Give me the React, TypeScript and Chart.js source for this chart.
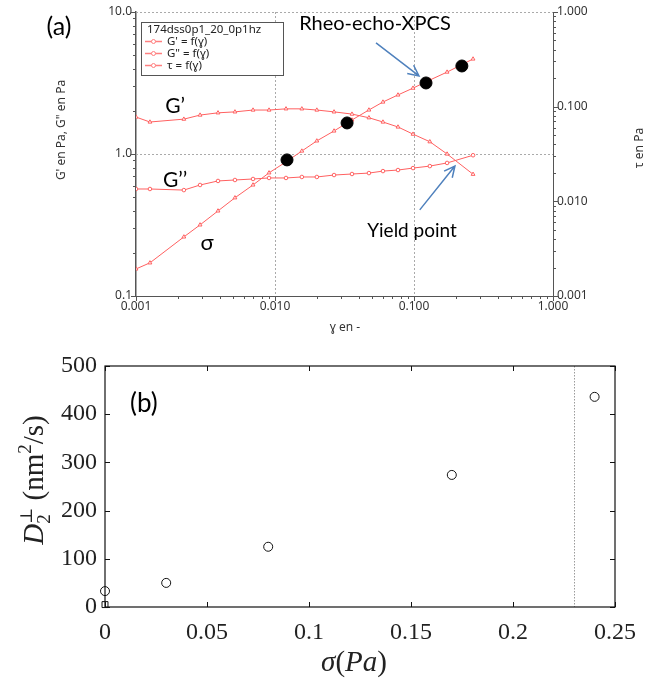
import React, { useEffect, useRef } from 'react';
import { Chart, registerables } from 'chart.js';

Chart.register(...registerables);

// ---------------- Panel (a) data ----------------
const strainGamma = [0.001, 0.00126, 0.00221, 0.00289, 0.00389, 0.00515, 0.00695, 0.00906, 0.012, 0.0156, 0.02, 0.0266, 0.0358, 0.0474, 0.0598, 0.0767, 0.0984, 0.13, 0.173, 0.266];
const storageModulus = [1.82, 1.68, 1.76, 1.88, 1.95, 1.98, 2.04, 2.04, 2.08, 2.08, 2.04, 1.98, 1.91, 1.8, 1.68, 1.55, 1.38, 1.22, 1.0, 0.72];
const lossModulus = [0.567, 0.567, 0.557, 0.605, 0.646, 0.656, 0.667, 0.678, 0.678, 0.689, 0.689, 0.711, 0.723, 0.734, 0.758, 0.771, 0.796, 0.822, 0.865, 0.98];
const shearStress = [0.00193, 0.00224, 0.00421, 0.00564, 0.00792, 0.0109, 0.0149, 0.02, 0.0261, 0.034, 0.0435, 0.0554, 0.0724, 0.0923, 0.112, 0.133, 0.157, 0.191, 0.232, 0.319];
const xpcsGamma = [0.0122, 0.033, 0.122, 0.221];
const xpcsStress = [0.0274, 0.0673, 0.178, 0.269];
const gammaTickLabels = ['0.001', '0.010', '0.100', '1.000'];
const modulusTickLabels = ['0.1', '1.0', '10.0'];
const stressTickLabels = ['0.001', '0.010', '0.100', '1.000'];
const legendTitle = '174dss0p1_20_0p1hz';
const legendLabels = ["G' = f(\u0263)", 'G" = f(\u0263)', '\u03c4 = f(\u0263)'];

// annotation anchors in data space (gamma, modulus / stress)
const textNotesA = [
  { text: 'G\u2019', x: 0.00191, y: 2.18, axis: 'y', size: 21 },
  { text: 'G\u2019\u2019', x: 0.00191, y: 0.656, axis: 'y', size: 21 },
  { text: '\u03c3', x: 0.00324, y: 0.236, axis: 'y', size: 22 },
  { text: 'Yield point', x: 0.0968, y: 0.287, axis: 'y', size: 19 },
  { text: 'Rheo-echo-XPCS', x: 0.0524, y: 8.23, axis: 'y', size: 20 },
];
const arrowNotesA = [
  { x1: 0.0533, y1: 0.471, x2: 0.1086, y2: 0.211, axis: 'y2' },
  { x1: 0.11, y1: 0.404, x2: 0.197, y2: 0.823, axis: 'y' },
];

// ---------------- Panel (b) data ----------------
const stressSigma = [0, 0.03, 0.08, 0.17, 0.24];
const diffusionD2 = [33, 50, 125, 274, 436];
const quiescentSigma = [0];
const quiescentD2 = [5];
const yieldSigma = 0.23;
const sigmaTicks = [0, 0.05, 0.1, 0.15, 0.2, 0.25];
const sigmaTickLabels = ['0', '0.05', '0.1', '0.15', '0.2', '0.25'];
const d2Ticks = [0, 100, 200, 300, 400, 500];
const d2TickLabels = ['0', '100', '200', '300', '400', '500'];
const panelBLabel = { text: '(b)', x: 0.0191, y: 423 };

const RED = '#ff6060';
const SERIF = '"Liberation Serif", "DejaVu Serif", serif';

function logTicks(min: number, max: number) {
  const out: { value: number }[] = [];
  const e0 = Math.round(Math.log10(min));
  const e1 = Math.round(Math.log10(max));
  for (let e = e0; e < e1; e++) {
    for (let m = 1; m < 10; m++) out.push({ value: parseFloat((m * Math.pow(10, e)).toPrecision(6)) });
  }
  out.push({ value: max });
  return out;
}
function isDecade(v: number) {
  const e = Math.log10(v);
  return Math.abs(e - Math.round(e)) < 1e-6;
}
function decadeLabel(v: number, labels: string[], base: number) {
  if (!isDecade(v)) return '';
  return labels[Math.round(Math.log10(v)) - base] ?? '';
}

function drawArrow(ctx: CanvasRenderingContext2D, x1: number, y1: number, x2: number, y2: number) {
  const ang = Math.atan2(y2 - y1, x2 - x1);
  const L = 12;
  const a = 0.45;
  ctx.beginPath();
  ctx.moveTo(x1, y1);
  ctx.lineTo(x2, y2);
  ctx.moveTo(x2 - L * Math.cos(ang - a), y2 - L * Math.sin(ang - a));
  ctx.lineTo(x2, y2);
  ctx.lineTo(x2 - L * Math.cos(ang + a), y2 - L * Math.sin(ang + a));
  ctx.stroke();
}

type Piece = { t: string; font: string; dy?: number; stack?: { t: string; font: string; dy: number } };
function drawPieces(ctx: CanvasRenderingContext2D, pieces: Piece[], cx: number, baseY: number) {
  const widths = pieces.map((p) => {
    ctx.font = p.font;
    let w = ctx.measureText(p.t).width;
    if (p.stack) {
      ctx.font = p.stack.font;
      w = Math.max(w, ctx.measureText(p.stack.t).width);
    }
    return w;
  });
  const total = widths.reduce((s, w) => s + w, 0);
  let x = cx - total / 2;
  ctx.textAlign = 'left';
  ctx.textBaseline = 'alphabetic';
  pieces.forEach((p, i) => {
    ctx.font = p.font;
    ctx.fillText(p.t, x, baseY + (p.dy || 0));
    if (p.stack) {
      ctx.font = p.stack.font;
      ctx.fillText(p.stack.t, x, baseY + p.stack.dy);
    }
    x += widths[i];
  });
}

const panelAPlugin = {
  id: 'panelA',
  beforeDatasetsDraw(chart: any) {
    const { ctx, chartArea: ca, scales } = chart;
    ctx.save();
    ctx.strokeStyle = '#aaaaaa';
    ctx.lineWidth = 1;
    ctx.setLineDash([2, 2]);
    ctx.beginPath();
    [0.01, 0.1].forEach((v) => {
      const p = Math.round(scales.x.getPixelForValue(v)) + 0.5;
      ctx.moveTo(p, ca.top);
      ctx.lineTo(p, ca.bottom);
    });
    [1, 10].forEach((v) => {
      const p = Math.round(scales.y.getPixelForValue(v)) + 0.5;
      ctx.moveTo(ca.left, p);
      ctx.lineTo(ca.right, p);
    });
    ctx.stroke();
    ctx.restore();
  },
  afterDraw(chart: any) {
    const { ctx, chartArea: ca, scales } = chart;
    const sx = scales.x, sy = scales.y, sy2 = scales.y2;
    ctx.save();
    // tick marks
    ctx.strokeStyle = '#555';
    ctx.lineWidth = 1;
    ctx.beginPath();
    sx.ticks.forEach((t: any) => {
      const p = Math.round(sx.getPixelForValue(t.value)) + 0.5;
      const L = isDecade(t.value) ? 5 : 3;
      ctx.moveTo(p, ca.bottom);
      ctx.lineTo(p, ca.bottom + L);
    });
    sy.ticks.forEach((t: any) => {
      const p = Math.round(sy.getPixelForValue(t.value)) + 0.5;
      const L = isDecade(t.value) ? 5 : 3;
      ctx.moveTo(ca.left, p);
      ctx.lineTo(ca.left - L, p);
    });
    sy2.ticks.forEach((t: any) => {
      const p = Math.round(sy2.getPixelForValue(t.value)) + 0.5;
      const L = isDecade(t.value) ? 5 : 3;
      ctx.moveTo(ca.right, p);
      ctx.lineTo(ca.right + L, p);
    });
    ctx.stroke();

    // axis titles
    ctx.fillStyle = '#333';
    ctx.font = '12px "Noto Sans"';
    ctx.textAlign = 'center';
    ctx.textBaseline = 'middle';
    ctx.save();
    ctx.translate(62, 130);
    ctx.rotate(-Math.PI / 2);
    ctx.fillText('G\' en Pa, G" en Pa', 0, 0);
    ctx.restore();
    ctx.save();
    ctx.translate(640, 148);
    ctx.rotate(-Math.PI / 2);
    ctx.fillText('\u03c4 en Pa', 0, 0);
    ctx.restore();
    ctx.fillText('\u0263 en -', 345, 328);

    // panel label
    ctx.fillStyle = '#000';
    ctx.font = '25px Lato';
    ctx.fillText('(a)', 59, 27);

    // text notes
    textNotesA.forEach((n) => {
      ctx.font = `${n.size}px Lato`;
      ctx.fillText(n.text, sx.getPixelForValue(n.x), scales[n.axis].getPixelForValue(n.y));
    });

    // arrows
    ctx.strokeStyle = '#4f81bd';
    ctx.lineWidth = 1.5;
    arrowNotesA.forEach((a) => {
      const ys = scales[a.axis];
      drawArrow(ctx, sx.getPixelForValue(a.x1), ys.getPixelForValue(a.y1), sx.getPixelForValue(a.x2), ys.getPixelForValue(a.y2));
    });

    // legend box
    const lx = ca.left + 5, ly = ca.top + 10, lw = 142, lh = 53;
    ctx.fillStyle = '#fff';
    ctx.fillRect(lx, ly, lw, lh);
    ctx.strokeStyle = '#555';
    ctx.lineWidth = 1;
    ctx.strokeRect(lx + 0.5, ly + 0.5, lw, lh);
    ctx.fillStyle = '#222';
    ctx.font = '11.5px "Noto Sans"';
    ctx.textAlign = 'left';
    ctx.textBaseline = 'middle';
    ctx.fillText(legendTitle, lx + 6, ly + 8);
    legendLabels.forEach((lab, i) => {
      const yy = ly + 19.5 + i * 12;
      ctx.strokeStyle = '#ff8080';
      ctx.lineWidth = 1.5;
      ctx.beginPath();
      ctx.moveTo(lx + 4, yy);
      ctx.lineTo(lx + 21, yy);
      ctx.stroke();
      ctx.fillStyle = '#fff';
      ctx.lineWidth = 1;
      ctx.beginPath();
      ctx.arc(lx + 12.5, yy, 2, 0, Math.PI * 2);
      ctx.fill();
      ctx.stroke();
      ctx.fillStyle = '#222';
      ctx.fillText(lab, lx + 26, yy);
    });
    ctx.restore();
  },
};

const panelBPlugin = {
  id: 'panelB',
  beforeDatasetsDraw(chart: any) {
    const { ctx, chartArea: ca, scales } = chart;
    ctx.save();
    ctx.strokeStyle = '#9a9a9a';
    ctx.lineWidth = 1;
    ctx.setLineDash([1.5, 1.5]);
    const p = Math.round(scales.x.getPixelForValue(yieldSigma)) + 0.5;
    ctx.beginPath();
    ctx.moveTo(p, ca.top);
    ctx.lineTo(p, ca.bottom);
    ctx.stroke();
    ctx.restore();
  },
  afterDraw(chart: any) {
    const { ctx, chartArea: ca, scales } = chart;
    const sx = scales.x, sy = scales.y;
    ctx.save();
    ctx.strokeStyle = '#111';
    ctx.lineWidth = 1.2;
    ctx.strokeRect(ca.left, ca.top, ca.right - ca.left, ca.bottom - ca.top);
    ctx.lineWidth = 1;
    ctx.beginPath();
    sigmaTicks.forEach((v) => {
      const p = Math.round(sx.getPixelForValue(v)) + 0.5;
      ctx.moveTo(p, ca.bottom);
      ctx.lineTo(p, ca.bottom - 5);
      ctx.moveTo(p, ca.top);
      ctx.lineTo(p, ca.top + 5);
    });
    d2Ticks.forEach((v) => {
      const p = Math.round(sy.getPixelForValue(v)) + 0.5;
      ctx.moveTo(ca.left, p);
      ctx.lineTo(ca.left + 5, p);
      ctx.moveTo(ca.right, p);
      ctx.lineTo(ca.right - 5, p);
    });
    ctx.stroke();

    ctx.fillStyle = '#222';
    // x title  sigma(Pa)
    drawPieces(ctx, [
      { t: '\u03c3', font: `italic 29px ${SERIF}` },
      { t: '(', font: `29px ${SERIF}` },
      { t: 'Pa', font: `italic 29px ${SERIF}` },
      { t: ')', font: `29px ${SERIF}` },
    ], 354, 331);

    // y title  D2_perp (nm^2/s)
    ctx.save();
    ctx.translate(33, 140);
    ctx.rotate(-Math.PI / 2);
    drawPieces(ctx, [
      { t: 'D', font: `italic 29px ${SERIF}` },
      { t: '\u22a5', font: `17px ${SERIF}`, dy: -11, stack: { t: '2', font: `19px ${SERIF}`, dy: 7 } },
      { t: ' (nm', font: `29px ${SERIF}` },
      { t: '2', font: `19px ${SERIF}`, dy: -12 },
      { t: '/s)', font: `29px ${SERIF}` },
    ], 0, 10);
    ctx.restore();

    // panel label
    ctx.fillStyle = '#000';
    ctx.font = '26px Lato';
    ctx.textAlign = 'center';
    ctx.textBaseline = 'middle';
    ctx.fillText(panelBLabel.text, sx.getPixelForValue(panelBLabel.x), sy.getPixelForValue(panelBLabel.y));
    ctx.restore();
  },
};

export default function App() {
  const refA = useRef<HTMLCanvasElement>(null);
  const refB = useRef<HTMLCanvasElement>(null);

  useEffect(() => {
    Chart.defaults.font.family = '"Noto Sans", sans-serif';
    const tickFontA = { family: '"Noto Sans"', size: 12 };
    const chartA = new Chart(refA.current as HTMLCanvasElement, {
      type: 'line',
      data: {
        datasets: [
          {
            label: 'Rheo-echo-XPCS',
            data: xpcsGamma.map((g, i) => ({ x: g, y: xpcsStress[i] })),
            yAxisID: 'y2',
            showLine: false,
            pointRadius: 6,
            pointBackgroundColor: '#000',
            pointBorderColor: '#000',
            order: 0,
          },
          {
            label: "G' = f(\u0263)",
            data: strainGamma.map((g, i) => ({ x: g, y: storageModulus[i] })),
            yAxisID: 'y',
            borderColor: RED,
            borderWidth: 1,
            pointStyle: 'triangle',
            pointRadius: 2.2,
            pointBorderColor: RED,
            pointBackgroundColor: '#fff',
            pointBorderWidth: 1,
            order: 1,
          },
          {
            label: 'G" = f(\u0263)',
            data: strainGamma.map((g, i) => ({ x: g, y: lossModulus[i] })),
            yAxisID: 'y',
            borderColor: RED,
            borderWidth: 1,
            pointStyle: 'circle',
            pointRadius: 1.8,
            pointBorderColor: RED,
            pointBackgroundColor: '#fff',
            pointBorderWidth: 1,
            order: 1,
          },
          {
            label: '\u03c4 = f(\u0263)',
            data: strainGamma.map((g, i) => ({ x: g, y: shearStress[i] })),
            yAxisID: 'y2',
            borderColor: RED,
            borderWidth: 1,
            pointStyle: 'triangle',
            pointRadius: 2.2,
            pointBorderColor: RED,
            pointBackgroundColor: '#fff',
            pointBorderWidth: 1,
            order: 1,
          },
        ],
      },
      options: {
        responsive: false,
        animation: false,
        layout: { padding: { top: 12, left: 0, right: 0, bottom: 0 } },
        plugins: { legend: { display: false }, tooltip: { enabled: false } },
        scales: {
          x: {
            type: 'logarithmic',
            min: 0.001,
            max: 1,
            position: 'bottom',
            grid: { display: false, drawTicks: false },
            border: { display: true, color: '#555', width: 1 },
            afterBuildTicks: (s: any) => { s.ticks = logTicks(0.001, 1); },
            ticks: {
              autoSkip: false,
              maxRotation: 0,
              padding: 3,
              color: '#333',
              font: tickFontA,
              callback: (v: any) => decadeLabel(Number(v), gammaTickLabels, -3),
            },
            afterFit: (s: any) => { s.height = 44; s.paddingLeft = 0; s.paddingRight = 0; },
          },
          y: {
            type: 'logarithmic',
            min: 0.1,
            max: 10,
            position: 'left',
            grid: { display: false, drawTicks: false },
            border: { display: true, color: '#555', width: 1.5 },
            afterBuildTicks: (s: any) => { s.ticks = logTicks(0.1, 10); },
            ticks: {
              autoSkip: false,
              padding: 4,
              color: '#333',
              font: tickFontA,
              callback: (v: any) => decadeLabel(Number(v), modulusTickLabels, -1),
            },
            afterFit: (s: any) => { s.width = 136; s.paddingTop = 0; s.paddingBottom = 0; },
          },
          y2: {
            type: 'logarithmic',
            min: 0.001,
            max: 1,
            position: 'right',
            grid: { display: false, drawTicks: false },
            border: { display: true, color: '#555', width: 1 },
            afterBuildTicks: (s: any) => { s.ticks = logTicks(0.001, 1); },
            ticks: {
              autoSkip: false,
              padding: 4,
              color: '#333',
              font: tickFontA,
              callback: (v: any) => decadeLabel(Number(v), stressTickLabels, -3),
            },
            afterFit: (s: any) => { s.width = 107; s.paddingTop = 0; s.paddingBottom = 0; },
          },
        },
      },
      plugins: [panelAPlugin],
    } as any);

    const tickFontB = { family: SERIF, size: 24 };
    const chartB = new Chart(refB.current as HTMLCanvasElement, {
      type: 'line',
      data: {
        datasets: [
          {
            label: 'sheared',
            data: stressSigma.map((s, i) => ({ x: s, y: diffusionD2[i] })),
            showLine: false,
            pointStyle: 'circle',
            pointRadius: 4.5,
            pointBorderColor: '#111',
            pointBackgroundColor: 'rgba(0,0,0,0)',
            pointBorderWidth: 1,
            clip: false,
          },
          {
            label: 'quiescent',
            data: quiescentSigma.map((s, i) => ({ x: s, y: quiescentD2[i] })),
            showLine: false,
            pointStyle: 'rect',
            pointRadius: 4.2,
            pointBorderColor: '#111',
            pointBackgroundColor: 'rgba(0,0,0,0)',
            pointBorderWidth: 1,
            clip: false,
          },
        ],
      },
      options: {
        responsive: false,
        animation: false,
        layout: { padding: { top: 26, left: 0, right: 45, bottom: 0 } },
        plugins: { legend: { display: false }, tooltip: { enabled: false } },
        scales: {
          x: {
            type: 'linear',
            min: 0,
            max: 0.25,
            grid: { display: false, drawTicks: false },
            border: { display: false },
            afterBuildTicks: (s: any) => { s.ticks = sigmaTicks.map((v) => ({ value: v })); },
            ticks: {
              autoSkip: false,
              maxRotation: 0,
              padding: 11,
              color: '#222',
              font: tickFontB,
              callback: (_v: any, i: number) => sigmaTickLabels[i],
            },
            afterFit: (s: any) => { s.height = 71; s.paddingLeft = 0; s.paddingRight = 0; },
          },
          y: {
            type: 'linear',
            min: 0,
            max: 500,
            grid: { display: false, drawTicks: false },
            border: { display: false },
            afterBuildTicks: (s: any) => { s.ticks = d2Ticks.map((v) => ({ value: v })); },
            ticks: {
              autoSkip: false,
              padding: 8,
              color: '#222',
              font: tickFontB,
              callback: (_v: any, i: number) => d2TickLabels[i],
            },
            afterFit: (s: any) => { s.width = 105; s.paddingTop = 0; s.paddingBottom = 0; },
          },
        },
      },
      plugins: [panelBPlugin],
    } as any);

    return () => {
      chartA.destroy();
      chartB.destroy();
    };
  }, []);

  return (
    <div style={{ position: 'absolute', left: 0, top: 0, width: 660, height: 678, background: '#fff' }}>
      <canvas ref={refA} width={660} height={340} style={{ position: 'absolute', left: 0, top: 0, width: 660, height: 340 }} />
      <canvas ref={refB} width={660} height={338} style={{ position: 'absolute', left: 0, top: 340, width: 660, height: 338 }} />
    </div>
  );
}
